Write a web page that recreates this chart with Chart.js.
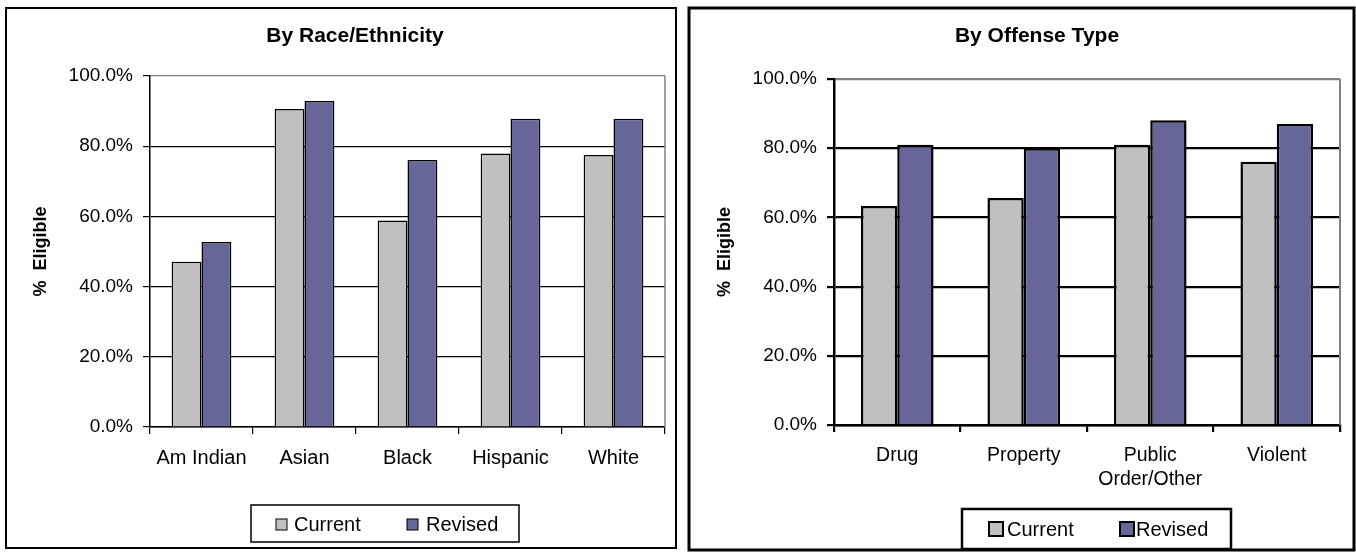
<!DOCTYPE html>
<html>
<head>
<meta charset="utf-8">
<script src="https://cdn.jsdelivr.net/npm/chart.js@4/dist/chart.umd.min.js"></script>
<style>
  html, body { margin: 0; padding: 0; background: #fff; }
  #wrap { position: relative; width: 1356px; height: 553px; overflow: hidden; }
  canvas { position: absolute; top: 0; }
  #raceCanvas { left: 0; }
  #offenseCanvas { left: 680px; }
</style>
</head>
<body>
<div id="wrap">
  <canvas id="raceCanvas" width="680" height="553"></canvas>
  <canvas id="offenseCanvas" width="676" height="553"></canvas>
</div>
<script>
// Share of cases eligible, current vs revised rules
const seriesNames = ['Current', 'Revised'];

const raceCategories = ['Am Indian', 'Asian', 'Black', 'Hispanic', 'White'];
const raceCurrent = [47.1, 90.6, 58.8, 77.9, 77.5];
const raceRevised = [52.7, 92.9, 76.1, 87.8, 87.8];

const offenseCategories = ['Drug', 'Property', ['Public', 'Order/Other'], 'Violent'];
const offenseCurrent = [63.3, 65.6, 81.0, 76.1];
const offenseRevised = [81.0, 80.0, 88.1, 87.0];

const yTickValues = [0, 20, 40, 60, 80, 100];
const yTickLabels = ['0.0%', '20.0%', '40.0%', '60.0%', '80.0%', '100.0%'];

const FONT = '"Liberation Sans", Arial, Helvetica, sans-serif';
const GRAY = '#C0C0C0';
const PURPLE = '#666699';

// Draws the panel frame, the heading, the plot frame and the boxed legend
const panelDecor = {
  id: 'panelDecor',
  beforeDatasetsDraw(chart, args, o) {
    const { ctx, chartArea } = chart;
    ctx.save();
    ctx.strokeStyle = '#808080';
    ctx.lineWidth = o.frameWidth;
    ctx.beginPath();
    ctx.moveTo(chartArea.right, chartArea.top);
    ctx.lineTo(chartArea.right, chartArea.bottom);
    ctx.stroke();
    ctx.restore();
  },
  afterDraw(chart, args, o) {
    const ctx = chart.ctx;
    ctx.save();
    // outer frame
    ctx.strokeStyle = '#000';
    ctx.lineWidth = o.panel.lw;
    ctx.strokeRect(o.panel.x, o.panel.y, o.panel.w, o.panel.h);
    // heading
    ctx.fillStyle = '#000';
    ctx.font = 'bold ' + o.titleSize + 'px ' + FONT;
    ctx.textAlign = 'center';
    ctx.textBaseline = 'middle';
    ctx.fillText(o.title, o.titleX, o.titleY);
    // legend
    const L = o.legend;
    ctx.fillStyle = '#fff';
    ctx.fillRect(L.x, L.y, L.w, L.h);
    ctx.lineWidth = L.lw;
    ctx.strokeStyle = '#000';
    ctx.strokeRect(L.x, L.y, L.w, L.h);
    ctx.font = L.fontSize + 'px ' + FONT;
    ctx.textAlign = 'left';
    ctx.textBaseline = 'alphabetic';
    chart.data.datasets.forEach((ds, i) => {
      const sx = L.swatchX[i];
      ctx.fillStyle = ds.backgroundColor;
      ctx.fillRect(sx, L.swatchY, L.sw, L.sw);
      ctx.lineWidth = L.swLw;
      ctx.strokeStyle = '#000';
      ctx.strokeRect(sx, L.swatchY, L.sw, L.sw);
      ctx.fillStyle = '#000';
      ctx.fillText(ds.label, L.textX[i], L.textY);
    });
    ctx.restore();
  }
};

function makeChart(canvas, cfg) {
  const W = canvas.width, H = canvas.height;
  const a = cfg.area;
  const xH = 60;
  return new Chart(canvas, {
    type: 'bar',
    data: {
      labels: cfg.categories,
      datasets: [
        { label: seriesNames[0], data: cfg.current, backgroundColor: GRAY, borderColor: '#000', borderWidth: cfg.barBorder, borderSkipped: 'start' },
        { label: seriesNames[1], data: cfg.revised, backgroundColor: PURPLE, borderColor: '#000', borderWidth: cfg.barBorder, borderSkipped: 'start' }
      ]
    },
    options: {
      responsive: false,
      animation: false,
      devicePixelRatio: 1,
      events: [],
      categoryPercentage: cfg.catPct,
      barPercentage: 1.0,
      layout: { padding: { left: 0, right: W - a.right, top: a.top, bottom: H - a.bottom - xH } },
      plugins: {
        legend: { display: false },
        title: { display: false },
        tooltip: { enabled: false },
        panelDecor: cfg.decor
      },
      scales: {
        x: {
          afterFit(s) { s.height = xH; },
          grid: { drawOnChartArea: false, drawTicks: true, tickLength: 7, color: '#000', lineWidth: cfg.gridWidth, offset: true },
          border: { color: '#000', width: cfg.axisWidth },
          ticks: { color: '#000', font: { family: FONT, size: cfg.catFont, lineHeight: 1.25 }, padding: cfg.catPad, maxRotation: 0, autoSkip: false }
        },
        y: {
          min: 0, max: 100,
          afterFit(s) { s.width = a.left; },
          afterBuildTicks(s) { s.ticks = yTickValues.map(v => ({ value: v })); },
          grid: {
            drawTicks: true, tickLength: 7,
            color: c => (c.tick && c.tick.value === 100 ? '#808080' : '#000'),
            tickColor: '#000',
            lineWidth: cfg.gridWidth
          },
          border: { color: '#000', width: cfg.axisWidth },
          ticks: {
            color: '#000', font: { family: FONT, size: 19 }, padding: 10,
            callback: v => yTickLabels[yTickValues.indexOf(v)]
          },
          title: {
            display: true, text: '%  Eligible', color: '#000',
            font: { family: FONT, size: 18, weight: 'bold' },
            padding: { top: cfg.yTitlePad, bottom: 0 }
          }
        }
      }
    },
    plugins: [panelDecor]
  });
}

makeChart(document.getElementById('raceCanvas'), {
  categories: raceCategories, current: raceCurrent, revised: raceRevised,
  area: { left: 150, right: 665, top: 76, bottom: 427 },
  catPct: 0.58, barBorder: 1.5, gridWidth: 1.2, axisWidth: 1.5,
  catFont: 20, catPad: 12, yTitlePad: 30,
  decor: {
    frameWidth: 1.5,
    panel: { x: 6, y: 8, w: 670, h: 540, lw: 2 },
    title: 'By Race/Ethnicity', titleSize: 21, titleX: 355, titleY: 36,
    legend: { x: 251, y: 505, w: 268, h: 37, lw: 1.5, sw: 11, swLw: 1,
              swatchX: [276, 407], swatchY: 519, textX: [294, 426], textY: 531, fontSize: 20 }
  }
});

makeChart(document.getElementById('offenseCanvas'), {
  categories: offenseCategories, current: offenseCurrent, revised: offenseRevised,
  area: { left: 154, right: 660, top: 79, bottom: 425 },
  catPct: 0.574, barBorder: 2.5, gridWidth: 2.2, axisWidth: 2.5,
  catFont: 19.5, catPad: 11, yTitlePad: 34,
  decor: {
    frameWidth: 2,
    panel: { x: 9, y: 8, w: 665, h: 542, lw: 3 },
    title: 'By Offense Type', titleSize: 21, titleX: 357, titleY: 36,
    legend: { x: 282, y: 509, w: 269, h: 40, lw: 2.5, sw: 14, swLw: 2,
              swatchX: [309, 440], swatchY: 522, textX: [327, 456], textY: 536, fontSize: 20 }
  }
});
</script>
</body>
</html>
